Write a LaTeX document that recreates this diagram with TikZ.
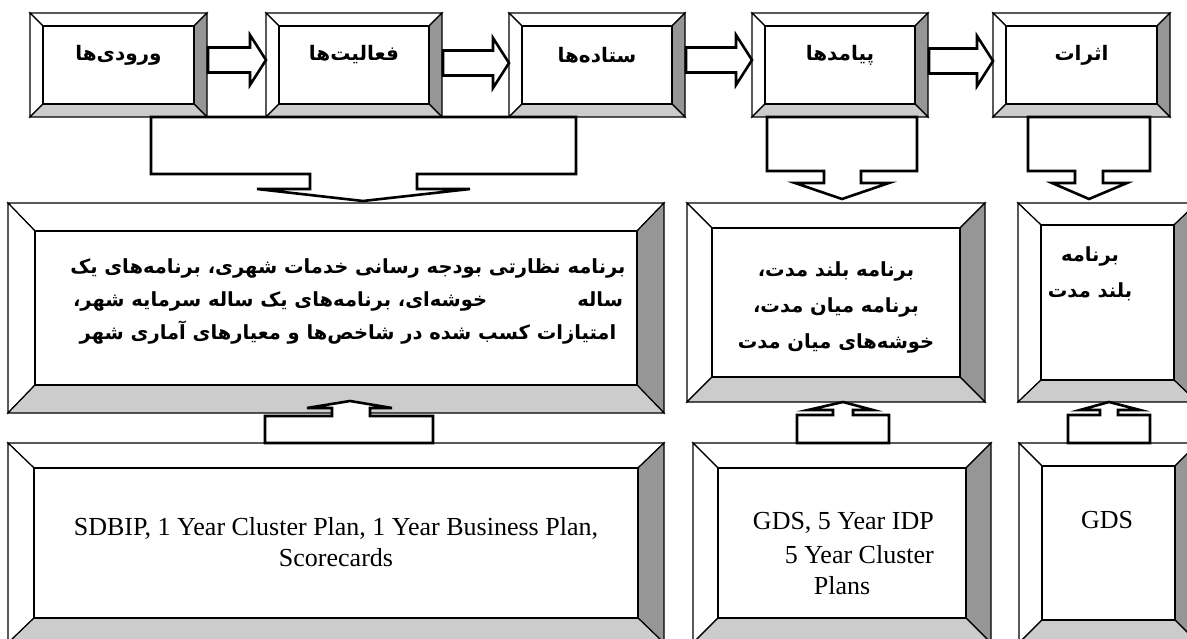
\documentclass[tikz,border=0pt]{standalone}
\usepackage{fontspec}
\setmainfont{Liberation Serif}
\newfontfamily\fa[Script=Arabic]{DejaVu Sans}
\TeXXeTstate=1
\usetikzlibrary{calc,fit}
\definecolor{bevdark}{RGB}{150,150,150}
\definecolor{bevlight}{RGB}{204,204,204}
\tikzset{
  bev/.style={draw=black, line width=1.2pt, line join=miter},
  bevW/.style={bev, fill=white},
  bevD/.style={bev, fill=bevdark},
  bevL/.style={bev, fill=bevlight},
  blockarrow/.style={draw=black, fill=white, line width=2.6pt, line join=miter},
  toplabel/.style={font=\fa\bfseries\fontsize{20}{24}\selectfont, inner sep=0},
  fatext/.style={font=\fa\bfseries\fontsize{19.5}{33}\selectfont, align=center, inner sep=0},
  fatextb/.style={font=\fa\bfseries\fontsize{19.5}{36}\selectfont, align=center, inner sep=0},
  entext/.style={font=\fontsize{26}{31}\selectfont, align=center, inner sep=0}
}
% name, x1, y1, x2, y2, horizontal bevel, vertical bevel
\newcommand\bevbox[7]{%
  \coordinate (#1-nw) at (#2,#3);
  \coordinate (#1-se) at (#4,#5);
  \node[fit=(#1-nw)(#1-se), inner sep=0, outer sep=0] (#1) {};
  \coordinate (#1-A) at (#1.north west);
  \coordinate (#1-B) at (#1.north east);
  \coordinate (#1-C) at (#1.south east);
  \coordinate (#1-D) at (#1.south west);
  \coordinate (#1-a) at ($(#1-A)+(#6,#7)$);
  \coordinate (#1-b) at ($(#1-B)+(-#6,#7)$);
  \coordinate (#1-c) at ($(#1-C)+(-#6,-#7)$);
  \coordinate (#1-d) at ($(#1-D)+(#6,-#7)$);
  \filldraw[bevW] (#1-A) -- (#1-B) -- (#1-b) -- (#1-a) -- cycle;
  \filldraw[bevW] (#1-A) -- (#1-a) -- (#1-d) -- (#1-D) -- cycle;
  \filldraw[bevD] (#1-B) -- (#1-C) -- (#1-c) -- (#1-b) -- cycle;
  \filldraw[bevL] (#1-D) -- (#1-d) -- (#1-c) -- (#1-C) -- cycle;
  \filldraw[bevW] (#1-a) rectangle (#1-c);
}
% right block arrow from node #1 to node #2, vertical offset #3
\newcommand\rarrow[3]{%
  \coordinate (#1#2s) at ($(#1.east)+(1,#3)$);
  \coordinate (#1#2t) at ($(#2.west)+(0,#3)$);
  \draw[blockarrow] ($(#1#2s)+(0,-12.5)$) -- ($(#1#2t)+(-16,-12.5)$)
    -- ($(#1#2t)+(-16,-25)$) -- (#1#2t) -- ($(#1#2t)+(-16,25)$)
    -- ($(#1#2t)+(-16,12.5)$) -- ($(#1#2s)+(0,12.5)$) -- cycle;
}
\begin{document}
\begin{tikzpicture}[x=1pt,y=-1pt]
\useasboundingbox (0,0) rectangle (1187,639);
\fill[white] (0,0) rectangle (1187,639);
\clip (0,0) rectangle (1187,639);

% top row
\bevbox{t1}{30}{13}{207}{117}{13}{13}
\bevbox{t2}{266}{13}{442}{117}{13}{13}
\bevbox{t3}{509}{13}{685}{117}{13}{13}
\bevbox{t4}{752}{13}{928}{117}{13}{13}
\bevbox{t5}{993}{13}{1170}{117}{13}{13}

% middle row
\bevbox{m1}{8}{203}{664}{413}{27}{28}
\bevbox{m2}{687}{203}{985}{402}{25}{25}
\bevbox{m3}{1018}{203}{1197}{402}{23}{22}

% bottom row
\bevbox{l1}{8}{443}{664}{643}{26}{25}
\bevbox{l2}{693}{443}{991}{643}{25}{25}
\bevbox{l3}{1019}{443}{1198}{643}{23}{23}

% top labels
\node[toplabel] (t1l) at ($(t1.north)+(0,42)$) {\beginR ورودی^^^^200cها\endR};
\node[toplabel] (t2l) at ($(t2.north)+(0,42)$) {\beginR فعالیت^^^^200cها\endR};
\node[toplabel] (t3l) at ($(t3.north)+(0,42)$) {\beginR ستاده^^^^200cها\endR};
\node[toplabel] (t4l) at ($(t4.north)+(0,42)$) {\beginR پیامدها\endR};
\node[toplabel] (t5l) at ($(t5.north)+(0,42)$) {\beginR اثرات\endR};

% right arrows between top boxes
\rarrow{t1}{t2}{-5}
\rarrow{t2}{t3}{-2}
\rarrow{t3}{t4}{-5}
\rarrow{t4}{t5}{-4}

% down callout arrows
\draw[blockarrow] (151,0 |- t1.south) -- (576,0 |- t1.south) -- (576,174) -- (417,174)
  -- (417,189) -- (470,189) -- ($(363,0 |- m1.north)+(0,-2)$) -- (257,189) -- (310,189)
  -- (310,174) -- (151,174) -- cycle;
\draw[blockarrow] (767,0 |- t4.south) -- (917,0 |- t4.south) -- (917,171) -- (861,171)
  -- (861,183) -- (889,183) -- ($(842,0 |- m2.north)+(0,-4)$) -- (795,183) -- (824,183)
  -- (824,171) -- (767,171) -- cycle;
\draw[blockarrow] (1028,0 |- t5.south) -- (1150,0 |- t5.south) -- (1150,171) -- (1103,171)
  -- (1103,183) -- (1127,183) -- ($(1089,0 |- m3.north)+(0,-4)$) -- (1052,183) -- (1075,183)
  -- (1075,171) -- (1028,171) -- cycle;

% up arrows
\draw[blockarrow] (265,0 |- l1.north) -- (265,416) -- (332,416) -- (332,408) -- (307,408)
  -- (350,401) -- (392,408) -- (370,408) -- (370,416) -- (433,416) -- (433,0 |- l1.north) -- cycle;
\draw[blockarrow] (797,0 |- l2.north) -- (797,415) -- (833,415) -- (833,410) -- (808,410)
  -- (843,0 |- m2.south) -- (873,410) -- (853,410) -- (853,415) -- (889,415) -- (889,0 |- l2.north) -- cycle;
\draw[blockarrow] (1068,0 |- l3.north) -- (1068,415) -- (1100,415) -- (1100,410) -- (1080,410)
  -- (1109,0 |- m3.south) -- (1140,410) -- (1118,410) -- (1118,415) -- (1150,415) -- (1150,0 |- l3.north) -- cycle;

% middle texts
\node[fatext] (m1t) at (348,301) {%
\beginR برنامه نظارتی بودجه رسانی خدمات شهری، برنامه^^^^200cهای یک\endR\\
\beginR ساله\hspace{90pt}خوشه^^^^200cای، برنامه^^^^200cهای یک ساله سرمایه شهر،\endR\\
\beginR امتیازات کسب شده در شاخص^^^^200cها و معیارهای آماری شهر\endR};
\node[fatextb] (m2t) at (836,307) {%
\beginR برنامه بلند مدت،\endR\\
\beginR برنامه میان مدت،\endR\\
\beginR خوشه^^^^200cهای میان مدت\endR};
\node[fatextb] (m3t) at (1090,274) {%
\beginR برنامه\endR\\
\beginR بلند مدت\endR};

% bottom texts
\node[entext] (l1t) at (336,542) {SDBIP, 1 Year Cluster Plan, 1 Year Business Plan,\\Scorecards};
\node[entext, anchor=east] (l2a) at (934,523) {GDS, 5 Year IDP};
\node[entext, anchor=east] (l2b) at (934,555) {5 Year Cluster};
\node[entext] (l2c) at (842,586) {Plans};
\node[entext] (l3t) at (1107,520) {GDS};
\end{tikzpicture}
\end{document}
